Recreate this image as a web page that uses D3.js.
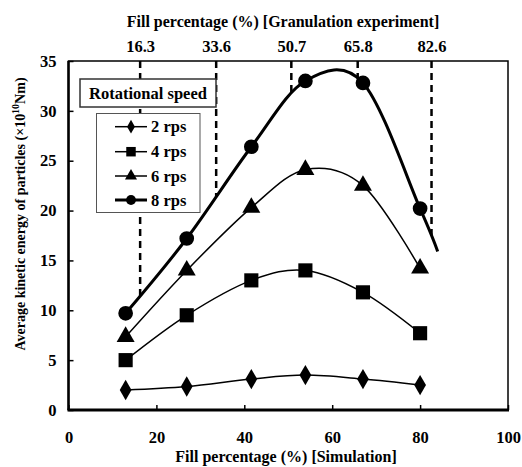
<!DOCTYPE html>
<html><head><meta charset="utf-8">
<script src="https://cdn.jsdelivr.net/npm/d3@7/dist/d3.min.js"></script>
<style>
html,body{margin:0;padding:0;background:#fff;}
text{font-family:"Liberation Serif","Times New Roman",serif;font-weight:bold;fill:#000;}
</style></head>
<body><svg id="chart" width="522" height="467"></svg>
<script>
// ---- data ----
const fillSim = [13, 26.9, 41.6, 53.9, 67.0, 80.0];
const rps2 = [2.0, 2.35, 3.1, 3.5, 3.1, 2.5];
const rps4 = [5.0, 9.5, 13.0, 14.0, 11.8, 7.7];
const rps6 = [7.35, 14.0, 20.3, 24.1, 22.5, 14.2];
const rps8 = [9.7, 17.2, 26.4, 33.0, 32.8, 20.2];
const rps8TailX = [84.0];
const rps8TailY = [15.9];
const seriesNames = ["2 rps", "4 rps", "6 rps", "8 rps"];
const expFill = [16.3, 33.6, 50.7, 65.8, 82.6];
const xTicks = [0, 20, 40, 60, 80, 100];
const yTicks = [0, 5, 10, 15, 20, 25, 30, 35];

const svg = d3.select("#chart");
const x = d3.scaleLinear().domain([0, 100]).range([68.5, 508]);
const y = d3.scaleLinear().domain([0, 35]).range([410, 61]);

const series = [
  {name: seriesNames[0], vals: rps2, sym: d3.symbolDiamond, w: 1.5, size: 120},
  {name: seriesNames[1], vals: rps4, sym: d3.symbolSquare, w: 1.5, size: 200},
  {name: seriesNames[2], vals: rps6, sym: d3.symbolTriangle, w: 1.5, size: 140},
  {name: seriesNames[3], vals: rps8, sym: d3.symbolCircle, w: 3, size: 170}
];

const line = d3.line().x(d => x(d[0])).y(d => y(d[1])).curve(d3.curveCardinal.tension(0));

// plot frame
svg.append("rect").attr("x", x(0)).attr("y", y(35)).attr("width", x(100) - x(0)).attr("height", y(0) - y(35))
  .attr("fill", "none").attr("stroke", "#000").attr("stroke-width", 1.5);

// series lines
let path8;
series.forEach((s, i) => {
  let pts = fillSim.map((f, j) => [f, s.vals[j]]);
  if (i === 3) pts = pts.concat(rps8TailX.map((t, j) => [t, rps8TailY[j]]));
  const p = svg.append("path").datum(pts).attr("d", line).attr("fill", "none")
    .attr("stroke", "#000").attr("stroke-width", s.w);
  if (i === 3) path8 = p.node();
});

// curve y at a given x on the 8 rps path
function yOnPath(node, px) {
  let lo = 0, hi = node.getTotalLength();
  for (let k = 0; k < 40; k++) {
    const mid = (lo + hi) / 2;
    if (node.getPointAtLength(mid).x < px) lo = mid; else hi = mid;
  }
  return node.getPointAtLength((lo + hi) / 2).y;
}

// dashed experiment lines
expFill.forEach(f => {
  svg.append("line").attr("x1", x(f)).attr("x2", x(f)).attr("y1", y(35)).attr("y2", yOnPath(path8, x(f)))
    .attr("stroke", "#000").attr("stroke-width", 2.5).attr("stroke-dasharray", "7,5");
});

// markers
series.forEach(s => {
  svg.append("g").selectAll("path").data(fillSim).join("path")
    .attr("transform", (f, j) => `translate(${x(f)},${y(s.vals[j])})`)
    .attr("d", d3.symbol().type(s.sym).size(s.size)).attr("fill", "#000");
});

// axes lines (thicker left/bottom)
svg.append("line").attr("x1", x(0)).attr("x2", x(0)).attr("y1", y(35)).attr("y2", y(0)).attr("stroke", "#000").attr("stroke-width", 2.5);
svg.append("line").attr("x1", x(0) - 1).attr("x2", x(100) + 1).attr("y1", y(0)).attr("y2", y(0)).attr("stroke", "#000").attr("stroke-width", 3);

// y axis
const yAxis = d3.axisLeft(y).tickValues(yTicks).tickSizeInner(-5).tickSizeOuter(0).tickPadding(12);
const gy = svg.append("g").attr("transform", `translate(${x(0)},0)`).call(yAxis);
gy.select(".domain").remove();
gy.selectAll("line").attr("stroke-width", 1.5);
gy.selectAll("text").attr("font-size", 16.5).attr("font-family", null);

// x axis bottom
const xAxis = d3.axisBottom(x).tickValues(xTicks).tickSizeInner(-5).tickSizeOuter(0).tickPadding(21);
const gx = svg.append("g").attr("transform", `translate(0,${y(0)})`).call(xAxis);
gx.select(".domain").remove();
gx.selectAll("line").attr("stroke-width", 1.5);
gx.selectAll("text").attr("font-size", 16.5).attr("font-family", null);

// top axis labels (experiment)
const xTop = d3.axisTop(x).tickValues(expFill).tickSize(0).tickPadding(9).tickFormat(d3.format(".1f"));
const gt = svg.append("g").attr("transform", `translate(0,${y(35)})`).call(xTop);
gt.select(".domain").remove();
gt.selectAll("text").attr("font-size", 16.5).attr("font-family", null);

// titles
svg.append("text").attr("x", 283).attr("y", 27).attr("text-anchor", "middle").attr("font-size", 16)
  .text("Fill percentage (%) [Granulation experiment]");
svg.append("text").attr("x", 286).attr("y", 462).attr("text-anchor", "middle").attr("font-size", 16)
  .text("Fill percentage (%) [Simulation]");
const yt = svg.append("text").attr("transform", "translate(25,214) rotate(-90)").attr("text-anchor", "middle").attr("font-size", 14);
yt.append("tspan").text("Average kinetic energy of particles (\u00d710");
yt.append("tspan").attr("font-size", 10).attr("dy", -6).text("10");
yt.append("tspan").attr("dy", 6).text("Nm)");

// legend header box
svg.append("rect").attr("x", 80).attr("y", 79).attr("width", 136).attr("height", 28)
  .attr("fill", "#fff").attr("stroke", "#333").attr("stroke-width", 1.5);
svg.append("text").attr("x", 148).attr("y", 99).attr("text-anchor", "middle").attr("font-size", 16.5).text("Rotational speed");

// legend box
svg.append("rect").attr("x", 96.5).attr("y", 113.5).attr("width", 103.5).attr("height", 99)
  .attr("fill", "#fff").attr("stroke", "#555").attr("stroke-width", 1);
const legY = [126.7, 151.7, 176, 200];
series.forEach((s, i) => {
  const g = svg.append("g").attr("transform", `translate(0,${legY[i]})`);
  g.append("line").attr("x1", 115).attr("x2", 147).attr("y1", 0).attr("y2", 0).attr("stroke", "#000").attr("stroke-width", s.w);
  g.append("path").attr("transform", "translate(131,0)").attr("d", d3.symbol().type(s.sym).size(s.size * 0.45)).attr("fill", "#000");
  g.append("text").attr("x", 151).attr("y", 5.5).attr("font-size", 16.5).text(s.name);
});
</script></body></html>
